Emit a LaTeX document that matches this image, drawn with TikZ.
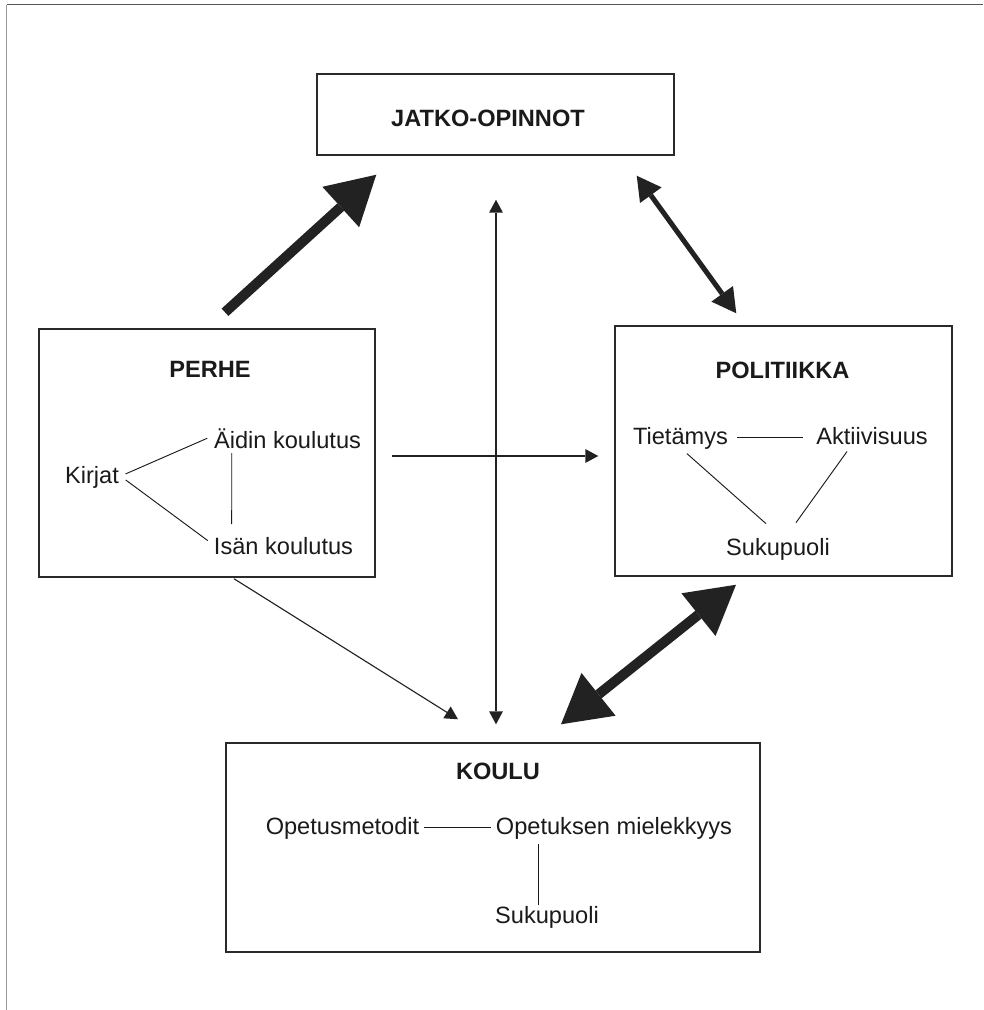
\documentclass[tikz,border=0pt]{standalone}
\usepackage{fontspec}
\setmainfont{Liberation Sans}
\usetikzlibrary{arrows.meta,calc}
\definecolor{ink}{HTML}{1A1A1A}
\definecolor{boxc}{HTML}{2A2A2A}
\definecolor{arrc}{HTML}{222222}
\definecolor{frametop}{HTML}{555555}
\definecolor{frameleft}{HTML}{999999}
\begin{document}
\begin{tikzpicture}[x=0.75pt,y=-0.75pt,
  every node/.style={font=\fontsize{17.7}{21}\selectfont, text=ink, inner sep=3.375pt},
  box/.style={draw=boxc, line width=1.1pt},
  title/.style={font=\fontsize{17.7}{21}\selectfont\bfseries, anchor=base},
  item/.style={anchor=base},
  link/.style={draw=ink, line width=0.7pt},
  thinarrow/.style={draw=arrc, line width=0.85pt, -{Triangle[length=9.75pt,width=10.5pt,line width=0pt]}},
  thinboth/.style={draw=arrc, line width=0.85pt, {Triangle[length=9.75pt,width=10.5pt,line width=0pt]}-{Triangle[length=9.75pt,width=10.5pt,line width=0pt]}},
  medboth/.style={draw=arrc, line width=3.75pt, {Triangle[length=18pt,width=20pt,line width=0pt]}-{Triangle[length=18pt,width=20pt,line width=0pt]}},
  bigarrow/.style={draw=arrc, line width=7.5pt, -{Triangle[length=36pt,width=41pt,line width=0pt]}},
  bigboth/.style={draw=arrc, line width=7.5pt, {Triangle[length=36pt,width=41pt,line width=0pt]}-{Triangle[length=36pt,width=41pt,line width=0pt]}}
]
\useasboundingbox (0,0) rectangle (983,1010);
% frame
\coordinate (ftl) at (6.7,4.5);
\coordinate (ftr) at (983,4.5);
\coordinate (fbl) at (6.7,1010);
\draw[draw=frametop, line width=1.1pt] (ftl) -- (ftr);
\draw[draw=frameleft, line width=1.1pt] (ftl) -- (fbl);

% boxes
\node[box, minimum width=267.75pt, minimum height=60.75pt] (jatko) at (495.5,114.5) {};
\node[title] (jatkot) at (488,126) {JATKO-OPINNOT};
\node[box, minimum width=252pt, minimum height=186pt] (perhe) at (207,453) {};
\node[title] (perhet) at (210,377) {PERHE};
\node[box, minimum width=252.75pt, minimum height=187.5pt] (poli) at (783.5,451) {};
\node[title] (polit) at (782.5,378) {POLITIIKKA};
\node[box, minimum width=400.5pt, minimum height=156.75pt] (koulu) at (493,847.5) {};
\node[title] (koulut) at (498,779) {KOULU};

% PERHE items
\node[item] (kirjat) at (92,483) {Kirjat};
\node[item] (aidin) at (287.5,448) {Äidin koulutus};
\node[item] (isan) at (283.5,554) {Isän koulutus};
\draw[link] ($(kirjat.east)+(2,-3)$) -- ($(aidin.west)+(-2,0)$);
\draw[link] ($(kirjat.east)+(2,3)$) -- ($(isan.west)+(-1.5,-5)$);
\draw[link] ($(aidin.south west)+(22.5,0)$) -- ($(isan.north west)+(22.5,-8)$);

% POLITIIKKA items
\node[item] (tiet) at (680.5,444) {Tietämys};
\node[item] (akt) at (872,444) {Aktiivisuus};
\node[item] (suku) at (778,555) {Sukupuoli};
\draw[link] ($(tiet.east)+(4.5,0)$) -- ($(tiet.east -| akt.west)+(-8.5,0)$);
\draw[link] ($(tiet.south)+(6.5,0)$) -- ($(suku.north)+(-12,-9.5)$);
\draw[link] ($(akt.south)+(-25,2.5)$) -- ($(suku.north)+(18,-10.5)$);

% KOULU items
\node[item] (opm) at (342.5,834) {Opetusmetodit};
\node[item] (om) at (614,834) {Opetuksen mielekkyys};
\node[item] (suku2) at (547,923) {Sukupuoli};
\draw[link] (opm.east) -- (opm.east -| om.west);
\coordinate (omv) at ($(om.south west)+(47.5,0)$);
\draw[link] (omv) -- ($(omv |- suku2.north)+(0,4)$);

% connectors
\draw[bigarrow] ($(perhe.north)+(18,-16)$) -- ($(jatko.south west)+(60,19)$);
\draw[medboth] ($(jatko.south east)+(-38,20)$) -- ($(poli.north west)+(122,-12)$);
\draw[thinboth] ($(jatko.south)+(0.5,44)$) -- ($(koulu.north)+(3,-18)$);
\draw[thinarrow] ($(perhe.east)+(16,3)$) -- ($(poli.west)+(-16,5)$);
\draw[thinarrow] ($(perhe.south)+(27,1)$) -- ($(koulu.north)+(-35,-23)$);
\draw[bigboth] ($(poli.south)+(-47.5,8)$) -- ($(koulu.north)+(68,-18)$);
\end{tikzpicture}
\end{document}
